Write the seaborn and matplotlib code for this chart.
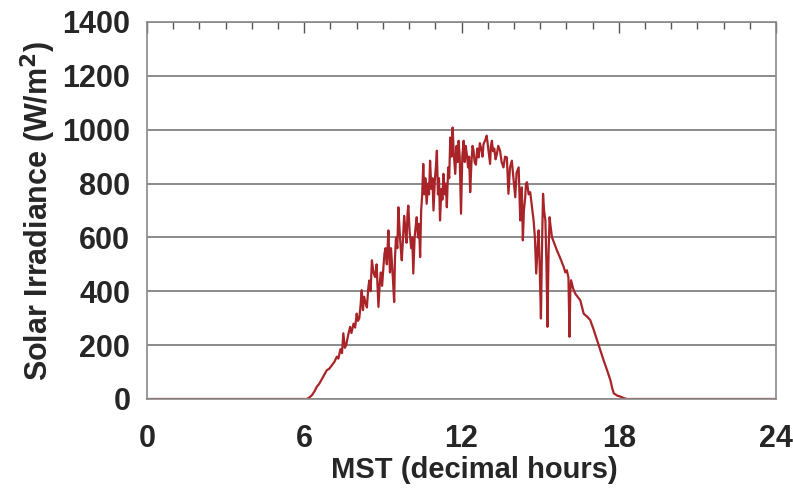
import numpy as np
import pandas as pd
import seaborn as sns
import matplotlib.pyplot as plt
from matplotlib.ticker import MultipleLocator

# Solar irradiance (MST decimal hours, W/m^2)
hours = [0, 6.1, 6.2, 6.3, 6.4, 6.48, 6.56, 6.65, 6.75, 6.86, 6.95, 7.05,
         7.15, 7.24, 7.3, 7.38, 7.44, 7.49, 7.55, 7.6, 7.67, 7.75, 7.8, 7.88,
         7.94, 8.0, 8.05, 8.1, 8.15, 8.19, 8.24, 8.28, 8.33, 8.39, 8.44, 8.48,
         8.53, 8.58, 8.64, 8.7, 8.76, 8.83, 8.88, 8.92, 8.97, 9.02, 9.06, 9.1,
         9.15, 9.21, 9.24, 9.27, 9.31, 9.34, 9.38, 9.43, 9.46, 9.5, 9.55, 9.59,
         9.64, 9.68, 9.72, 9.77, 9.81, 9.85, 9.9, 9.94, 9.97, 10.02, 10.08,
         10.12, 10.16, 10.21, 10.25, 10.29, 10.34, 10.38, 10.42, 10.46, 10.5,
         10.54, 10.58, 10.62, 10.67, 10.72, 10.76, 10.8, 10.85, 10.89, 10.93,
         10.98, 11.02, 11.06, 11.1, 11.14, 11.18, 11.23, 11.27, 11.31, 11.36,
         11.4, 11.44, 11.49, 11.53, 11.57, 11.62, 11.66, 11.7, 11.76, 11.81,
         11.85, 11.89, 11.93, 11.98, 12.03, 12.08, 12.12, 12.16, 12.2, 12.25,
         12.29, 12.33, 12.38, 12.42, 12.46, 12.5, 12.55, 12.6, 12.65, 12.7,
         12.75, 12.8, 12.84, 12.9, 12.96, 13.02, 13.09, 13.12, 13.16, 13.2,
         13.25, 13.3, 13.35, 13.4, 13.47, 13.53, 13.6, 13.66, 13.73, 13.79,
         13.85, 13.92, 13.98, 14.05, 14.1, 14.18, 14.21, 14.24, 14.27, 14.3,
         14.34, 14.38, 14.43, 14.46, 14.5, 14.56, 14.62, 14.68, 14.75, 14.8,
         14.85, 14.9, 14.94, 14.98, 15.03, 15.07, 15.11, 15.15, 15.2, 15.24,
         15.28, 15.32, 15.36, 15.4, 15.45, 15.55, 15.64, 15.78, 15.9, 15.96,
         16.02, 16.08, 16.12, 16.15, 16.18, 16.26, 16.34, 16.44, 16.53, 16.6,
         16.66, 16.8, 16.91, 17.05, 17.17, 17.3, 17.42, 17.55, 17.68, 17.75,
         17.81, 17.95, 18.06, 18.2, 18.32, 24]
irradiance = [0, 0, 6, 15, 30, 46, 55, 70, 88, 107, 112, 125,
              138, 157, 150, 185, 170, 244, 190, 200, 235, 268, 245, 280,
              265, 317, 290, 300, 350, 404, 330, 380, 360, 340, 410, 440,
              400, 515, 470, 453, 500, 342, 430, 470, 420, 490, 540, 560,
              500, 626, 540, 470, 560, 515, 450, 360, 520, 600, 560, 712,
              620, 560, 515, 600, 680, 640, 580, 690, 718, 620, 560,
              600, 466, 600, 640, 675, 600, 650, 527, 700, 760,
              873, 760, 820, 725, 800, 760, 885, 780, 820, 700,
              810, 860, 922, 760, 820, 663, 780, 740, 836, 760,
              800, 712, 860, 820, 971, 900, 1008, 920, 836, 940,
              880, 959, 900, 688, 900, 959, 880, 940, 910, 860,
              900, 768, 880, 940, 922, 880, 870, 930, 897, 950,
              930, 900, 947, 960, 978, 930, 873, 940, 959, 920,
              930, 890, 910, 940, 922, 880, 860, 900, 897, 762,
              860, 885, 820, 749, 840, 860, 760, 663, 760, 786,
              589, 700, 749, 800, 805, 760, 768, 720, 663, 600,
              466, 560, 626, 500, 299, 560, 762, 700, 663, 500,
              268, 540, 675, 640, 601, 575, 552, 520, 490, 470,
              478, 450, 231, 400, 441, 410, 391, 378, 367, 340,
              317, 305, 293, 255, 219, 180, 144, 108, 70, 40,
              21, 12, 9, 3, 0, 0]

df = pd.DataFrame({"MST": hours, "Irradiance": irradiance})

sns.set_style("white")
plt.rcParams["font.family"] = ["Liberation Sans", "DejaVu Sans"]

fig = plt.figure(figsize=(7.93, 4.91), dpi=100)
ax = fig.add_axes([0.1854, 0.1874, 0.7932, 0.7678])

sns.lineplot(data=df, x="MST", y="Irradiance", color="#a82428",
             linewidth=1.6, ax=ax)

ax.set_xlim(0, 24)
ax.set_ylim(0, 1400)
ax.xaxis.set_major_locator(MultipleLocator(6))
ax.xaxis.set_minor_locator(MultipleLocator(1))
ax.yaxis.set_major_locator(MultipleLocator(200))
ax.yaxis.set_minor_locator(MultipleLocator(100))

ax.yaxis.grid(True, which="major", color="#8a8a8a", linewidth=1.4)
ax.set_axisbelow(True)

for s in ax.spines.values():
    s.set_color("#8a8a8a")
    s.set_linewidth(1.2)

ax.tick_params(which="both", direction="in", top=True, right=False,
               color="#555555", width=1)
ax.tick_params(which="major", length=8, labelsize=22)
ax.tick_params(axis="x", which="major", pad=18)
ax.tick_params(axis="y", which="major", pad=12)
ax.tick_params(which="minor", length=5)
for lab in ax.get_xticklabels() + ax.get_yticklabels():
    lab.set_fontweight("bold")

ax.set_xlabel("MST (decimal hours)", fontsize=21, fontweight="bold")
ax.xaxis.set_label_coords(0.52, -0.15)
ax.set_ylabel("Solar Irradiance (W/m$^\\mathbf{2}$)", fontsize=22,
              fontweight="bold", labelpad=3)

fig.savefig("out.png", dpi=100, facecolor="white")
